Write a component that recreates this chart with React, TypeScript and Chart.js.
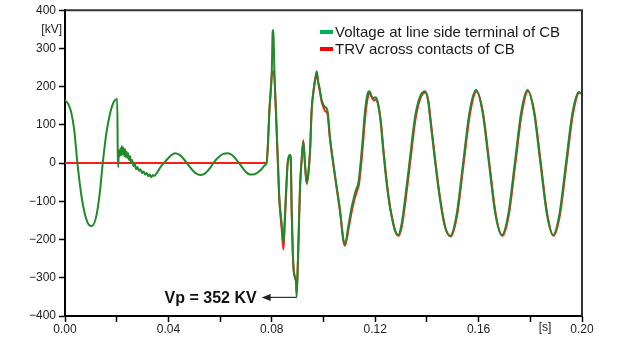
import React, { useEffect, useRef } from 'react';
import { Chart, registerables } from 'chart.js';

Chart.register(...registerables);

// ---- data ----
const lineSideTime = [
  0, 0.002, 0.0035, 0.0048, 0.0065, 0.0085, 0.0102, 0.012, 0.0135, 0.0146, 0.016, 0.0175, 0.019, 0.0202,
  0.0204, 0.0206, 0.0208, 0.0211, 0.0214, 0.0217, 0.022, 0.0223, 0.0226, 0.0229, 0.0232, 0.0235, 0.0238,
  0.0241, 0.0244, 0.0248, 0.0252, 0.0256, 0.026, 0.0265, 0.027, 0.0275, 0.028, 0.0286, 0.0292, 0.0298,
  0.0304, 0.031, 0.0316, 0.0322, 0.0328, 0.0334, 0.034, 0.0346, 0.0355, 0.0372, 0.0393, 0.041, 0.0426,
  0.0442, 0.046, 0.0478, 0.0495, 0.051, 0.0526, 0.0542, 0.056, 0.0578, 0.0595, 0.0612, 0.063, 0.0646,
  0.0664, 0.0682, 0.0698, 0.0712, 0.0725, 0.0742, 0.076, 0.0773, 0.078,
  0.0785, 0.079, 0.08, 0.0803, 0.0805, 0.0807, 0.081, 0.0816, 0.0823, 0.0829, 0.0838, 0.0845, 0.085,
  0.0855, 0.0861, 0.0866, 0.087, 0.0873, 0.0877, 0.0883, 0.089, 0.0894, 0.0896, 0.09, 0.0903, 0.0909,
  0.0916, 0.0922, 0.0928, 0.0935, 0.0941, 0.0948, 0.0954, 0.0963, 0.0969, 0.0974, 0.0979, 0.0984,
  0.0993, 0.1, 0.1006, 0.1015, 0.1025, 0.1038, 0.1051, 0.1064, 0.1077, 0.1083,
  0.1096, 0.1109, 0.1116, 0.1122, 0.1128, 0.1135, 0.1148, 0.1161, 0.1173, 0.1178, 0.1186, 0.1193, 0.12,
  0.1206, 0.1219, 0.1231, 0.1244, 0.1256, 0.1264, 0.1276, 0.1289, 0.1302, 0.1315, 0.1335, 0.1354,
  0.1373, 0.1393, 0.1404, 0.1412, 0.1431, 0.1451, 0.147, 0.149, 0.1515, 0.154, 0.1565, 0.159, 0.1615,
  0.164, 0.1665, 0.169, 0.1715, 0.174, 0.1765, 0.1789, 0.1814, 0.1839, 0.1864, 0.1888, 0.1913, 0.1938,
  0.1963, 0.1988, 0.2,
];
const lineSideKV = [
  166, 143, 90, 0, -92, -152, -165, -142, -75, 0, 78, 132, 162, 168,
  28, -10, 32, 18, 38, 20, 44, 24, 40, 18, 36, 16, 30,
  14, 26, 8, 18, 0, 8, -8, -2, -16, -10, -20, -16, -26,
  -22, -30, -26, -34, -30, -37, -31, -33, -26, -8, 8, 20, 26,
  22, 10, -6, -20, -28, -31, -27, -14, 4, 16, 24, 26, 21,
  8, -8, -22, -29, -30, -26, -16, -6, 0,
  50, 130, 243, 340, 348, 330, 243, 139, 16, -89, -157, -209, -150,
  -78, 0, 18, 22, 18, -123, -262, -300, -314, -350, -280, -209, -63,
  16, 55, 0, -52, -29, 34, 139, 199, 225, 240, 215, 199,
  165, 152, 147, 139, 68, 0, -63, -123, -201, -212,
  -165, -115, -95, -78, -66, -52, 34, 139, 186, 188, 175, 170, 172,
  168, 120, 34, -52, -112, -141, -176, -188, -160, -97, 16, 120,
  173, 188, 165, 120, 8, -97, -167, -190, -134, 0, 134, 191, 134,
  0, -134, -188, -133, 0, 134, 191, 134, 0, -133, -188, -132, 0,
  131, 186, 180,
];

const trvTime = [
  0, 0.078,
  0.0785, 0.079, 0.08, 0.0803, 0.0805, 0.0807, 0.081, 0.0816, 0.0823, 0.0829, 0.0838, 0.0845, 0.085,
  0.0855, 0.0861, 0.0866, 0.087, 0.0873, 0.0877, 0.0883, 0.089, 0.0894, 0.0896, 0.09, 0.0903, 0.0909,
  0.0916, 0.0922, 0.0928, 0.0935, 0.0941, 0.0948, 0.0954, 0.0963, 0.0969, 0.0974, 0.0979, 0.0984,
  0.0993, 0.1, 0.1006, 0.1015, 0.1025, 0.1038, 0.1051, 0.1064, 0.1077, 0.1083,
  0.1098, 0.1111, 0.1118, 0.1124, 0.113, 0.1137, 0.115, 0.1163, 0.1175, 0.118, 0.1188, 0.1195, 0.1202,
  0.1208, 0.1221, 0.1233, 0.1246, 0.1258, 0.1266, 0.1278, 0.1291, 0.1304, 0.1317, 0.1337, 0.1356,
  0.1375, 0.1395, 0.1406, 0.1414, 0.1433, 0.1453, 0.1472, 0.1492, 0.1517, 0.1542, 0.1567, 0.1592, 0.1617,
  0.1642, 0.1667, 0.1692, 0.1717, 0.1742, 0.1767, 0.1791, 0.1816, 0.1841, 0.1866, 0.189, 0.1915, 0.194,
  0.1965, 0.199, 0.2,
];
const trvKV = [
  0, 0,
  48, 125, 228, 238, 240, 236, 226, 130, 10, -95, -170, -226, -160,
  -85, -5, 14, 18, 12, -128, -265, -300, -312, -340, -282, -212, -68,
  12, 60, 2, -55, -30, 30, 135, 195, 222, 236, 212, 195,
  160, 146, 136, 130, 62, -4, -66, -128, -204, -216,
  -168, -120, -100, -85, -72, -56, 28, 132, 180, 182, 170, 164, 166,
  162, 114, 28, -56, -116, -144, -178, -190, -162, -100, 12, 116,
  170, 185, 162, 116, 4, -100, -170, -192, -136, -2, 130, 187, 132,
  -2, -136, -190, -135, -2, 130, 188, 132, -2, -135, -190, -134, -2,
  128, 184, 182,
];

const seriesNames = ['Voltage at line side terminal of CB', 'TRV across contacts of CB'];
const seriesColors = ['#22892a', '#ff1a1a'];
const legendColors = ['#00b050', '#ff0000'];
const xUnit = '[s]';
const yUnit = '[kV]';
const peakLabel = 'Vp = 352 KV';

const FONT = '"Liberation Sans", Arial, sans-serif';

const overlay = {
  id: 'overlay',
  afterDraw(chart: any) {
    const { ctx, chartArea: a, scales } = chart;
    ctx.save();
    // top & right frame
    ctx.strokeStyle = '#333';
    ctx.lineWidth = 2;
    ctx.beginPath();
    ctx.moveTo(a.left, a.top);
    ctx.lineTo(a.right, a.top);
    ctx.lineTo(a.right, a.bottom);
    ctx.stroke();

    // unit labels
    ctx.fillStyle = '#222';
    ctx.font = `12px ${FONT}`;
    ctx.textAlign = 'right';
    ctx.textBaseline = 'middle';
    ctx.fillText(yUnit, a.left - 3, scales.y.getPixelForValue(350));
    ctx.textAlign = 'center';
    ctx.fillText(xUnit, scales.x.getPixelForValue(0.1857), a.bottom + 12);

    // legend
    ctx.font = `15px ${FONT}`;
    ctx.textAlign = 'left';
    ctx.textBaseline = 'alphabetic';
    const lx = 320;
    const rows = [37, 54];
    rows.forEach((by, i) => {
      ctx.fillStyle = legendColors[i];
      ctx.fillRect(lx, by - 7, 13, 4);
      ctx.fillStyle = '#1a1a1a';
      ctx.fillText(seriesNames[i], lx + 15, by);
    });

    // Vp annotation
    let mi = 0;
    for (let i = 1; i < lineSideKV.length; i++) if (lineSideKV[i] < lineSideKV[mi]) mi = i;
    const px = scales.x.getPixelForValue(lineSideTime[mi]);
    const py = scales.y.getPixelForValue(lineSideKV[mi]) + 0.5;
    const tipX = px - 35;
    ctx.strokeStyle = '#333';
    ctx.fillStyle = '#222';
    ctx.lineWidth = 1.2;
    ctx.beginPath();
    ctx.moveTo(px, py);
    ctx.lineTo(tipX + 6, py);
    ctx.stroke();
    ctx.beginPath();
    ctx.moveTo(tipX, py);
    ctx.lineTo(tipX + 9, py - 3.5);
    ctx.lineTo(tipX + 9, py + 3.5);
    ctx.closePath();
    ctx.fill();
    ctx.font = `bold 16px ${FONT}`;
    ctx.textAlign = 'right';
    ctx.fillStyle = '#111';
    ctx.fillText(peakLabel, tipX - 5, py + 6);
    ctx.restore();
  },
};

export default function App() {
  const ref = useRef<HTMLCanvasElement>(null);
  useEffect(() => {
    if (!ref.current) return;
    const green = lineSideTime.map((t, i) => ({ x: t, y: lineSideKV[i] }));
    const red = trvTime.map((t, i) => ({ x: t, y: trvKV[i] }));
    const chart = new Chart(ref.current, {
      type: 'line',
      data: {
        datasets: [
          {
            label: seriesNames[0],
            data: green,
            borderColor: seriesColors[0],
            borderWidth: 2,
            pointRadius: 0,
            cubicInterpolationMode: 'monotone',
          },
          {
            label: seriesNames[1],
            data: red,
            borderColor: seriesColors[1],
            borderWidth: 2,
            pointRadius: 0,
            cubicInterpolationMode: 'monotone',
          },
        ],
      },
      options: {
        animation: false,
        responsive: false,
        devicePixelRatio: 1,
        layout: { padding: { top: 10, right: 59, left: 0, bottom: 0 } },
        plugins: { legend: { display: false }, tooltip: { enabled: false } },
        scales: {
          x: {
            type: 'linear',
            min: 0,
            max: 0.2,
            afterFit: (s: any) => { s.height = 35; },
            ticks: {
              stepSize: 0.02,
              autoSkip: false,
              maxRotation: 0,
              padding: 0,
              color: '#222',
              font: { family: FONT, size: 12 },
              callback: (v: any) => {
                const n = Math.round(Number(v) * 100);
                return n % 4 === 0 ? (n / 100).toFixed(2) : '';
              },
            },
            grid: { drawOnChartArea: false, tickLength: 6, tickColor: '#000', tickWidth: 1.5 },
            border: { color: '#000', width: 2 },
          },
          y: {
            min: -400,
            max: 400,
            afterFit: (s: any) => { s.width = 65; },
            ticks: {
              stepSize: 100,
              autoSkip: false,
              padding: 3,
              color: '#222',
              font: { family: FONT, size: 12 },
              callback: (v: any) => {
                const n = Math.round(Number(v));
                return n < 0 ? '\u2212' + Math.abs(n) : String(n);
              },
            },
            grid: { drawOnChartArea: false, tickLength: 6, tickColor: '#000', tickWidth: 1.5 },
            border: { color: '#000', width: 2 },
          },
        },
      },
      plugins: [overlay],
    } as any);
    return () => chart.destroy();
  }, []);
  return (
    <div style={{ position: 'absolute', left: 0, top: 0, width: 641, height: 351, background: '#fff' }}>
      <canvas ref={ref} width={641} height={351} />
    </div>
  );
}
